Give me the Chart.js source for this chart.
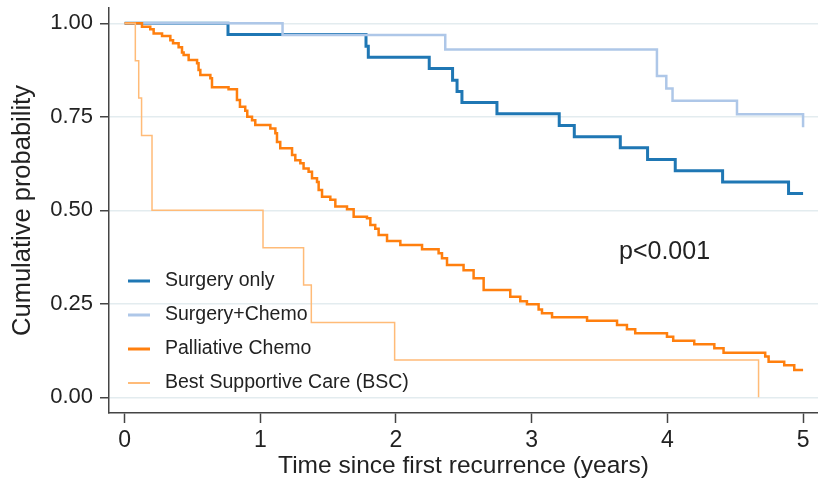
<!DOCTYPE html>
<html>
<head>
<meta charset="utf-8">
<script src="https://cdn.jsdelivr.net/npm/chart.js@4/dist/chart.umd.min.js"></script>
<style>
  body { margin: 0; background: #fff; }
  #wrap { width: 818px; height: 485px; }
</style>
</head>
<body>
<div id="wrap"><canvas id="kmChart" width="818" height="485"></canvas></div>
<script>
const seriesLabels = ["Surgery only", "Surgery+Chemo", "Palliative Chemo", "Best Supportive Care (BSC)"];
const seriesColors = ["#1f77b4", "#aec7e8", "#ff7f0e", "#ffbb78"];
const seriesWidths = [3, 2.5, 2.5, 1.5];

const xTicks = [0, 1, 2, 3, 4, 5];
const yTicks = [0, 0.25, 0.5, 0.75, 1];

// time (years) at which each step ends, and probability after the step
const surgeryTimes = [0, 0.762, 1.779, 1.796, 2.245, 2.417, 2.450, 2.486, 2.744, 3.203, 3.314, 3.653, 3.854, 4.058, 4.407, 4.893, 5.0];
const surgeryProb = [1, 0.970, 0.939, 0.909, 0.879, 0.848, 0.818, 0.788, 0.758, 0.727, 0.697, 0.667, 0.636, 0.606, 0.576, 0.545, 0.545];

const surgChemoTimes = [0, 1.164, 2.363, 3.923, 3.992, 4.038, 4.513, 5.0];
const surgChemoProb = [1, 0.969, 0.930, 0.859, 0.826, 0.793, 0.757, 0.722];

const palliativeTimes = [0, 0.128, 0.189, 0.214, 0.276, 0.337, 0.357, 0.398, 0.423, 0.435, 0.472, 0.534, 0.545, 0.558, 0.632, 0.644,
  0.766, 0.828, 0.850, 0.889, 0.904, 0.939, 0.963, 1.074, 1.111, 1.123, 1.147, 1.234, 1.258, 1.295, 1.319, 1.356, 1.381, 1.418,
  1.430, 1.455, 1.516, 1.553, 1.639, 1.688, 1.786, 1.811, 1.847, 1.872, 1.934, 2.032, 2.192, 2.314, 2.339, 2.376, 2.498, 2.572,
  2.646, 2.842, 2.916, 2.965, 3.051, 3.076, 3.150, 3.408, 3.629, 3.702, 3.763, 3.997, 4.043, 4.198, 4.346, 4.414, 4.721, 4.746,
  4.861, 4.935, 5.0];
const palliativeProb = [1, 0.991, 0.984, 0.973, 0.966, 0.955, 0.947, 0.936, 0.922, 0.915, 0.902, 0.893, 0.875, 0.862, 0.853, 0.829,
  0.824, 0.795, 0.777, 0.766, 0.750, 0.741, 0.728, 0.719, 0.706, 0.683, 0.666, 0.648, 0.634, 0.626, 0.612, 0.603, 0.586, 0.576,
  0.554, 0.536, 0.528, 0.510, 0.503, 0.483, 0.479, 0.461, 0.451, 0.434, 0.418, 0.407, 0.396, 0.385, 0.372, 0.354, 0.340, 0.318,
  0.287, 0.269, 0.257, 0.249, 0.235, 0.225, 0.214, 0.205, 0.193, 0.182, 0.171, 0.162, 0.151, 0.142, 0.131, 0.119, 0.109, 0.095,
  0.086, 0.073, 0.073];

const bscTimes = [0, 0.079, 0.104, 0.125, 0.202, 1.020, 1.319, 1.376, 1.990, 4.672];
const bscProb = [1, 0.9, 0.8, 0.7, 0.5, 0.4, 0.3, 0.2, 0.1, 0];

const pValueText = "p<0.001";

const FONT = "'Liberation Sans', Arial, sans-serif";

function toPoints(times, probs) {
  return times.map((t, i) => ({ x: t, y: probs[i] }));
}

const allTimes = [surgeryTimes, surgChemoTimes, palliativeTimes, bscTimes];
const allProbs = [surgeryProb, surgChemoProb, palliativeProb, bscProb];

const datasets = seriesLabels.map((label, i) => ({
  label: label,
  data: toPoints(allTimes[i], allProbs[i]),
  borderColor: seriesColors[i],
  backgroundColor: seriesColors[i],
  borderWidth: seriesWidths[i],
  stepped: true,
  pointRadius: 0,
  fill: false,
  order: seriesLabels.length - i,
}));

// legend inside the plot area + p value annotation
const annotations = {
  id: "annotations",
  afterDatasetsDraw(chart) {
    const ctx = chart.ctx;
    ctx.save();
    ctx.textBaseline = "middle";
    ctx.textAlign = "left";
    ctx.fillStyle = "#222";
    ctx.font = "19.5px " + FONT;
    const rowY = [281, 315, 349, 383];
    seriesLabels.forEach((label, i) => {
      ctx.strokeStyle = seriesColors[i];
      ctx.lineWidth = seriesWidths[i] < 2 ? 2 : 3;
      ctx.beginPath();
      ctx.moveTo(128, rowY[i]);
      ctx.lineTo(150, rowY[i]);
      ctx.stroke();
      ctx.fillText(label, 165, rowY[i]);
    });
    ctx.font = "25px " + FONT;
    ctx.fillText(pValueText, 619, 252);
    ctx.restore();
  },
};

new Chart(document.getElementById("kmChart"), {
  type: "line",
  data: { datasets: datasets },
  options: {
    responsive: false,
    animation: false,
    layout: { padding: { top: 8, right: 0, left: 0, bottom: 0 } },
    plugins: {
      legend: { display: false },
      tooltip: { enabled: false },
    },
    scales: {
      x: {
        type: "linear",
        min: -0.115,
        max: 5.11,
        afterBuildTicks: (scale) => {
          scale.ticks = xTicks.map((v) => ({ value: v }));
        },
        afterFit: (scale) => {
          scale.height = 72;
          scale.paddingLeft = 0;
          scale.paddingRight = 0;
        },
        grid: {
          drawOnChartArea: false,
          tickLength: 10,
          tickColor: "#444",
          tickWidth: 1.5,
        },
        border: { display: true, color: "#444", width: 1.5 },
        ticks: {
          autoSkip: false,
          maxRotation: 0,
          padding: 4,
          color: "#222",
          font: { family: FONT, size: 23 },
          callback: (v) => String(v),
        },
        title: {
          display: true,
          text: "Time since first recurrence (years)",
          color: "#222",
          font: { family: FONT, size: 24.5 },
          padding: { top: 0, bottom: 4 },
        },
      },
      y: {
        type: "linear",
        min: -0.042,
        max: 1.041,
        afterBuildTicks: (scale) => {
          scale.ticks = yTicks.map((v) => ({ value: v }));
        },
        afterFit: (scale) => {
          scale.width = 109;
          scale.paddingTop = 0;
          scale.paddingBottom = 0;
        },
        grid: {
          color: "#e3ecef",
          lineWidth: 1.5,
          tickLength: 9,
          tickColor: "#444",
          tickWidth: 1.5,
        },
        border: { display: true, color: "#444", width: 1.5 },
        ticks: {
          autoSkip: false,
          padding: 7,
          color: "#222",
          font: { family: FONT, size: 22 },
          callback: (v) => v.toFixed(2),
        },
        title: {
          display: true,
          text: "Cumulative probability",
          color: "#222",
          font: { family: FONT, size: 25.5 },
          padding: { top: 8, bottom: 0 },
        },
      },
    },
  },
  plugins: [annotations],
});
</script>
</body>
</html>
